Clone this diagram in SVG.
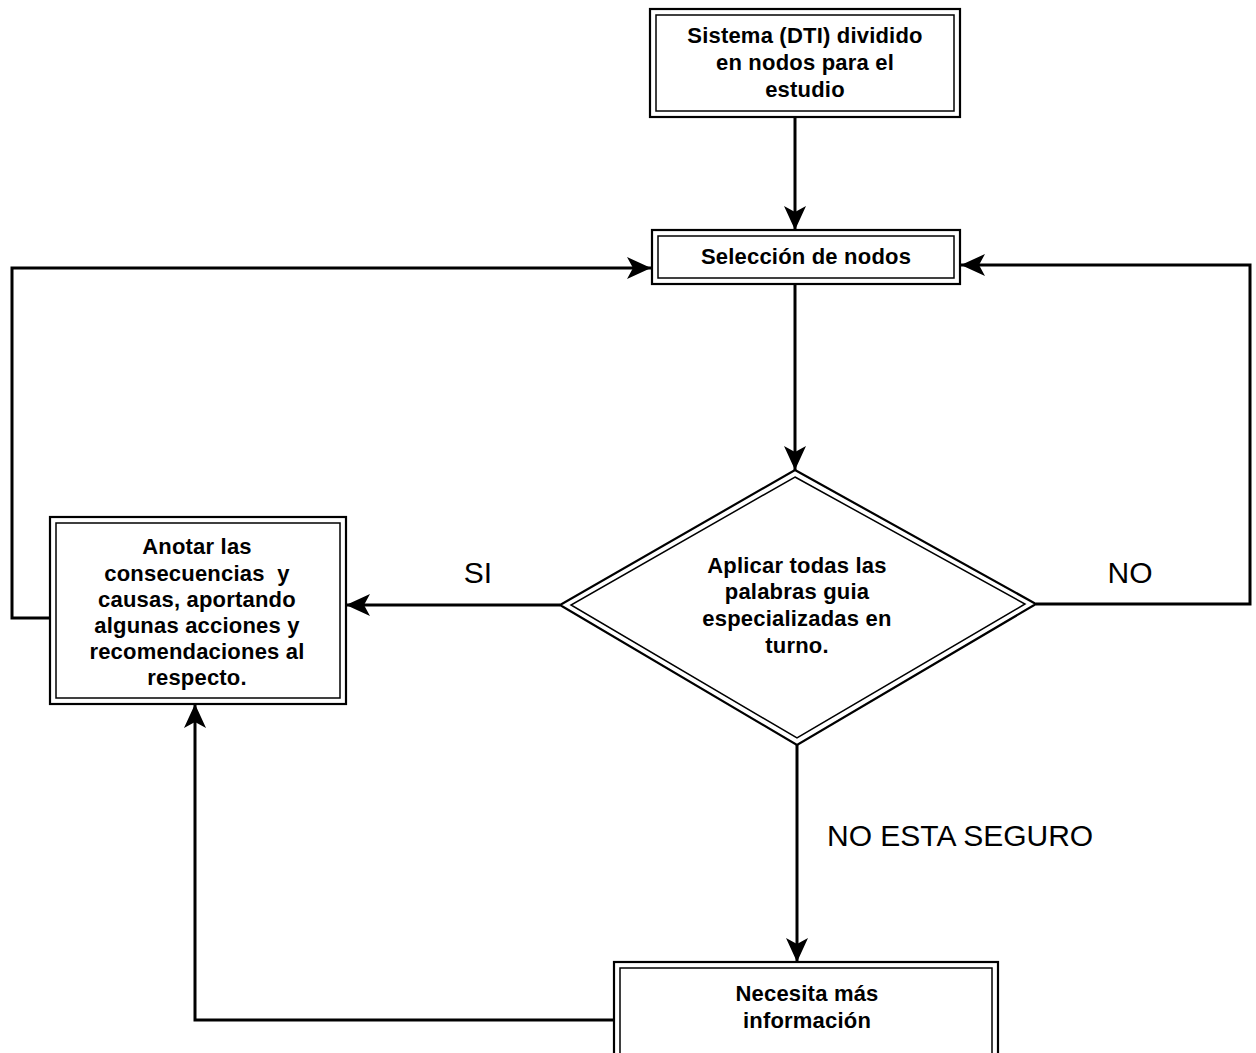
<svg xmlns="http://www.w3.org/2000/svg" width="1256" height="1053" viewBox="0 0 1256 1053">
<style>
.outer{fill:#fff;stroke:#000;stroke-width:2.2}
.inner{fill:none;stroke:#000;stroke-width:1.5}
.t{font-family:"Liberation Sans",Arial,sans-serif;font-weight:bold;font-size:22px;letter-spacing:0.2px;text-anchor:middle;fill:#000}
.lbl{font-family:"Liberation Sans",Arial,sans-serif;font-size:30px;fill:#000}
.c{fill:none;stroke:#000;stroke-width:3;marker-end:url(#ah)}
</style>
<defs>
<marker id="ah" viewBox="0 0 24 22" refX="24" refY="11" markerWidth="24" markerHeight="22" orient="auto" markerUnits="userSpaceOnUse">
<path d="M24,11 L0,0 L6,11 L0,22 Z" fill="#000"/>
</marker>
</defs>
<rect width="1256" height="1053" fill="#fff"/>
<g id="connectors">
<path class="c" d="M795,117 V230"/>
<path class="c" d="M795,284 V470"/>
<path class="c" d="M560,605 H346"/>
<path class="c" d="M1036,604 H1250 V265 H961"/>
<path class="c" d="M50,618 H12 V268 H651"/>
<path class="c" d="M797,745 V962"/>
<path class="c" d="M614,1020 H195 V704"/>
<text class="lbl" x="478" y="583" text-anchor="middle">SI</text>
<text class="lbl" x="1130" y="583" text-anchor="middle">NO</text>
<text class="lbl" x="827" y="846">NO ESTA SEGURO</text>
</g>
<g id="n1">
<rect class="outer" x="650" y="9" width="310" height="108"/>
<rect class="inner" x="656" y="15" width="298" height="96"/>
<text class="t" x="805" y="43">Sistema (DTI) dividido</text>
<text class="t" x="805" y="70">en nodos para el</text>
<text class="t" x="805" y="97">estudio</text>
</g>
<g id="n2">
<rect class="outer" x="652" y="230" width="308" height="54"/>
<rect class="inner" x="658" y="236" width="296" height="42"/>
<text class="t" x="806" y="264">Selección de nodos</text>
</g>
<g id="n3">
<polygon class="outer" points="795,470 1036,604 797,745 560,605"/>
<polygon class="inner" points="795,477 1025,604 797,738 571,605"/>
<text class="t" x="797" y="573">Aplicar todas las</text>
<text class="t" x="797" y="599">palabras guia</text>
<text class="t" x="797" y="626">especializadas en</text>
<text class="t" x="797" y="653">turno.</text>
</g>
<g id="n4">
<rect class="outer" x="50" y="517" width="296" height="187"/>
<rect class="inner" x="56" y="523" width="284" height="175"/>
<text class="t" x="197" y="554">Anotar las</text>
<text class="t" x="197" y="581">consecuencias&#160; y</text>
<text class="t" x="197" y="607">causas, aportando</text>
<text class="t" x="197" y="633">algunas acciones y</text>
<text class="t" x="197" y="659">recomendaciones al</text>
<text class="t" x="197" y="685">respecto.</text>
</g>
<g id="n5">
<rect class="outer" x="614" y="962" width="384" height="100"/>
<rect class="inner" x="620" y="968" width="372" height="100"/>
<text class="t" x="807" y="1001">Necesita más</text>
<text class="t" x="807" y="1028">información</text>
</g>
</svg>
